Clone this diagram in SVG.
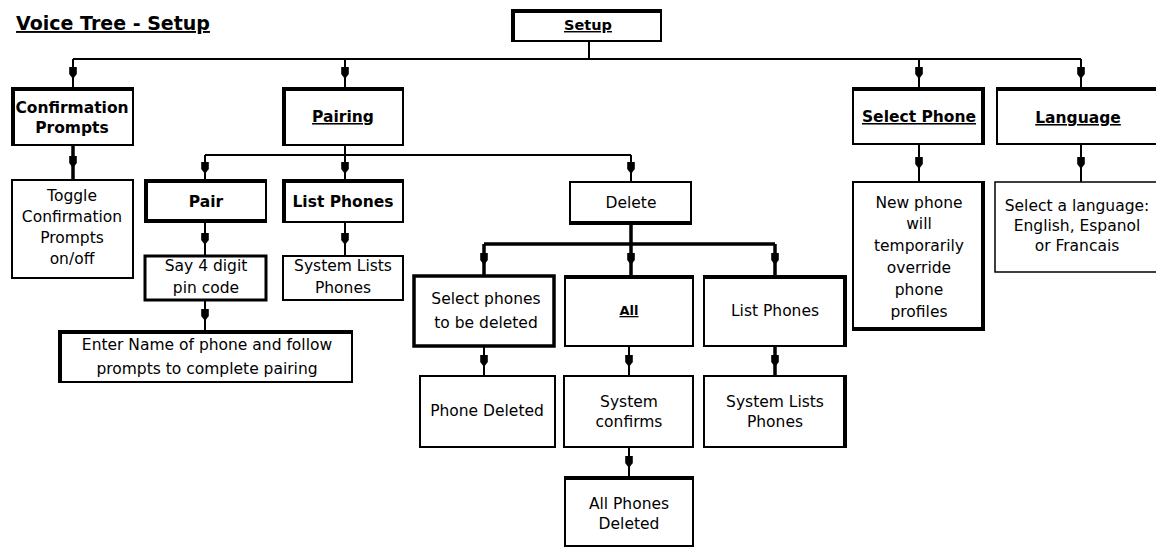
<svg xmlns="http://www.w3.org/2000/svg" width="1156" height="547" viewBox="0 0 1156 547">
<style>
.box{fill:#fff;stroke:#000;stroke-width:2}
.thk{stroke:#000;stroke-width:4;fill:none}
.c{fill:none;stroke:#000;stroke-width:2}
.c3{fill:none;stroke:#000;stroke-width:3.5}
text{font-family:"DejaVu Sans","Liberation Sans",sans-serif;font-size:15.5px;fill:#000;text-anchor:middle}
.b{font-weight:bold}
.u{text-decoration:underline}
</style>
<defs>
<marker id="ah" markerUnits="userSpaceOnUse" markerWidth="14" markerHeight="10" refX="0" refY="0" viewBox="-7 -5 14 10" orient="auto" overflow="visible">
<path d="M-6,-3.8 L1,-3.8 L6,0 L1,3.8 L-6,3.8 Z" fill="#000"/>
</marker>
</defs>
<rect width="1156" height="547" fill="#fff"/>
<text x="113" y="30" class="b u" style="font-size:19px">Voice Tree - Setup</text>

<g id="connectors">
<path class="c" d="M589,41 V59 M73,59 H1081"/>
<path class="c" d="M73,59 L73,73 L73,88" marker-mid="url(#ah)"/>
<path class="c" d="M345,59 L345,73 L345,88" marker-mid="url(#ah)"/>
<path class="c" d="M919,59 L919,73 L919,88" marker-mid="url(#ah)"/>
<path class="c" d="M1081,59 L1081,73 L1081,88" marker-mid="url(#ah)"/>
<path class="c3" d="M73,145 L73,162 L73,180" marker-mid="url(#ah)"/>
<path class="c" d="M345,145 V155 M205,155 H631"/>
<path class="c" d="M205,155 L205,168 L205,180" marker-mid="url(#ah)"/>
<path class="c" d="M345,155 L345,168 L345,180" marker-mid="url(#ah)"/>
<path class="c" d="M631,155 L631,168 L631,182" marker-mid="url(#ah)"/>
<path class="c" d="M205,222 L205,239 L205,256" marker-mid="url(#ah)"/>
<path class="c" d="M345,222 L345,239 L345,256" marker-mid="url(#ah)"/>
<path class="c" d="M205,300 L205,315 L205,331" marker-mid="url(#ah)"/>
<path class="c3" d="M631,224 V244 M484,244 H775"/>
<path class="c3" d="M484,244 L484,259 L484,276" marker-mid="url(#ah)"/>
<path class="c3" d="M631,244 L631,259 L631,276" marker-mid="url(#ah)"/>
<path class="c3" d="M775,244 L775,259 L775,276" marker-mid="url(#ah)"/>
<path class="c" d="M484,346 L484,361 L484,376" marker-mid="url(#ah)"/>
<path class="c" d="M629,346 L629,361 L629,376" marker-mid="url(#ah)"/>
<path class="c3" d="M775,346 L775,361 L775,376" marker-mid="url(#ah)"/>
<path class="c" d="M629,447 L629,462 L629,477" marker-mid="url(#ah)"/>
<path class="c" d="M919,144 L919,163 L919,182" marker-mid="url(#ah)"/>
<path class="c" d="M1081,144 L1081,163 L1081,182" marker-mid="url(#ah)"/>
</g>

<g id="setup"><rect class="box" x="512" y="10" width="149" height="31"/><path class="thk" d="M511,11 H662 M513,10 V41"/><text x="588" y="30" class="b u" style="font-size:14.5px">Setup</text></g>

<g id="confirmation"><rect class="box" x="12" y="88" width="121" height="57"/><path class="thk" d="M11,89 H134 M13,88 V145"/><text x="72" y="113" class="b">Confirmation</text><text x="72" y="133" class="b">Prompts</text></g>

<g id="toggle"><rect class="box" x="12" y="180" width="121" height="98"/><text x="72" y="201">Toggle</text><text x="72" y="222">Confirmation</text><text x="72" y="243">Prompts</text><text x="72" y="264">on/off</text></g>

<g id="pairing"><rect class="box" x="283" y="88" width="120" height="57"/><path class="thk" d="M282,89 H404 M284,88 V145"/><text x="343" y="122" class="b u">Pairing</text></g>

<g id="pair"><rect class="box" x="145" y="180" width="121" height="42"/><path class="thk" d="M144,181 H267 M146,180 V222 M144,221 H267"/><text x="206" y="207" class="b">Pair</text></g>

<g id="list-phones"><rect class="box" x="283" y="180" width="120" height="42"/><path class="thk" d="M282,181 H404 M284,180 V222"/><text x="343" y="207" class="b">List Phones</text></g>

<g id="say-pin"><rect class="box" x="145" y="256" width="121" height="44" style="stroke-width:3"/><text x="206" y="271">Say 4 digit</text><text x="206" y="293">pin code</text></g>

<g id="system-lists-1"><rect class="box" x="283" y="256" width="120" height="44"/><text x="343" y="271">System Lists</text><text x="343" y="293">Phones</text></g>

<g id="enter-name"><rect class="box" x="59" y="331" width="293" height="51"/><path class="thk" d="M58,332 H353 M60,331 V382"/><text x="207" y="350">Enter Name of phone and follow</text><text x="207" y="374">prompts to complete pairing</text></g>

<g id="delete"><rect class="box" x="570" y="182" width="121" height="42"/><path class="thk" d="M569,223 H692"/><text x="631" y="208">Delete</text></g>

<g id="select-phones"><rect class="box" x="414" y="276" width="140" height="70" style="stroke-width:3.5"/><text x="486" y="304">Select phones</text><text x="486" y="328">to be deleted</text></g>

<g id="all"><rect class="box" x="565" y="276" width="128" height="70"/><path class="thk" d="M564,277 H694"/><text x="629" y="315" class="b u" style="font-size:13px">All</text></g>

<g id="list-phones-2"><rect class="box" x="704" y="276" width="142" height="70"/><path class="thk" d="M703,277 H847 M845,276 V346"/><text x="775" y="316">List Phones</text></g>

<g id="phone-deleted"><rect class="box" x="420" y="376" width="135" height="71"/><text x="487" y="416">Phone Deleted</text></g>

<g id="system-confirms"><rect class="box" x="564" y="376" width="129" height="71"/><text x="629" y="407">System</text><text x="629" y="427">confirms</text></g>

<g id="system-lists-2"><rect class="box" x="704" y="376" width="142" height="71"/><path class="thk" d="M845,376 V447"/><text x="775" y="407">System Lists</text><text x="775" y="427">Phones</text></g>

<g id="all-phones-deleted"><rect class="box" x="565" y="477" width="128" height="69"/><path class="thk" d="M564,478 H694"/><text x="629" y="509">All Phones</text><text x="629" y="529">Deleted</text></g>

<g id="select-phone"><rect class="box" x="853" y="88" width="131" height="56"/><path class="thk" d="M852,89 H985 M983,88 V144"/><text x="919" y="122" class="b u">Select Phone</text></g>

<g id="new-phone"><rect class="box" x="853" y="182" width="131" height="148"/><path class="thk" d="M983,182 V331 M852,329 H985"/><text x="919" y="208">New phone</text><text x="919" y="229">will</text><text x="919" y="251">temporarily</text><text x="919" y="273">override</text><text x="919" y="295">phone</text><text x="919" y="317">profiles</text></g>

<g id="language"><rect class="box" x="997" y="88" width="165" height="56"/><path class="thk" d="M996,89 H1162"/><text x="1078" y="123" class="b u">Language</text></g>

<g id="select-language"><rect class="box" x="995" y="182" width="167" height="90" style="stroke-width:1.5"/><text x="1077" y="211">Select a language:</text><text x="1077" y="231">English, Espanol</text><text x="1077" y="251">or Francais</text></g>
</svg>
